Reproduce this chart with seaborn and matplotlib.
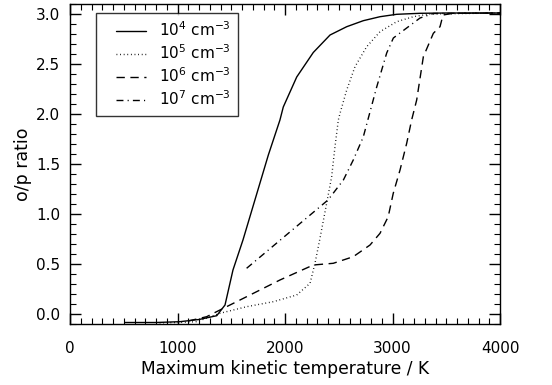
import numpy as np
import pandas as pd
import matplotlib
matplotlib.use("Agg")
import matplotlib.pyplot as plt
from matplotlib.lines import Line2D
from matplotlib.legend_handler import HandlerLine2D
from matplotlib.ticker import MultipleLocator
import seaborn as sns

# ---- data ----
densities = ["$10^4$ cm$^{-3}$", "$10^5$ cm$^{-3}$", "$10^6$ cm$^{-3}$", "$10^7$ cm$^{-3}$"]

t_1e4 = [510, 800, 1020, 1200, 1365, 1442, 1516, 1609, 1845, 1953, 1984, 2109, 2263, 2419,
         2574, 2728, 2884, 3039, 3256, 3500, 4000]
r_1e4 = [-0.085, -0.085, -0.077, -0.055, -0.017, 0.09, 0.44, 0.74, 1.59, 1.94, 2.07, 2.37, 2.615, 2.79,
         2.873, 2.933, 2.973, 2.997, 3.007, 3.01, 3.01]

t_1e5 = [800, 1000, 1179, 1395, 1643, 1891, 2109, 2233, 2279, 2326, 2388, 2434, 2465, 2496, 2512,
         2574, 2651, 2760, 2884, 3039, 3194, 3349, 4000]
r_1e5 = [-0.09, -0.085, -0.077, 0.007, 0.073, 0.123, 0.19, 0.307, 0.507, 0.76, 1.11, 1.373, 1.673, 1.94, 2.007,
         2.24, 2.473, 2.673, 2.823, 2.923, 2.973, 3.0, 3.01]

t_1e6 = [1100, 1271, 1395, 1643, 1953, 2263, 2449, 2635, 2791, 2884, 2960, 3007, 3070, 3132, 3178,
         3225, 3287, 3380, 3442, 3470, 3563, 4000]
r_1e6 = [-0.07, -0.027, 0.04, 0.173, 0.34, 0.49, 0.507, 0.573, 0.69, 0.807, 0.973, 1.207, 1.44, 1.707, 1.94,
         2.14, 2.573, 2.807, 2.873, 2.99, 3.007, 3.01]

t_1e7 = [1643, 2400, 2543, 2635, 2728, 2853, 2946, 3008, 3132, 3256, 3380, 4000]
r_1e7 = [0.457, 1.14, 1.34, 1.54, 1.77, 2.27, 2.61, 2.76, 2.86, 2.96, 3.005, 3.01]

series_t = [t_1e4, t_1e5, t_1e6, t_1e7]
series_r = [r_1e4, r_1e5, r_1e6, r_1e7]

frames = []
for lab, t, r in zip(densities, series_t, series_r):
    frames.append(pd.DataFrame({"T": t, "ratio": r, "density": lab}))
df = pd.concat(frames, ignore_index=True)

# ---- style ----
sns.set_theme(style="ticks")
plt.rcParams["font.family"] = ["DejaVu Sans"]
plt.rcParams["axes.linewidth"] = 1.0
plt.rcParams["text.color"] = "black"
plt.rcParams["axes.labelcolor"] = "black"
plt.rcParams["xtick.color"] = "black"
plt.rcParams["ytick.color"] = "black"

fig = plt.figure(figsize=(5.52, 3.85), dpi=100)
ax = fig.add_axes([70 / 552, 1 - 324 / 385, 430 / 552, 320 / 385])

dash_styles = ["", (0.6, 2.0), (6, 4), (5, 3, 0.8, 3)]
sns.lineplot(data=df, x="T", y="ratio", style="density", style_order=densities,
             dashes=dash_styles, color="black", linewidth=1.0, sort=False,
             estimator=None, legend=False, ax=ax)

ax.set_xlim(0, 4000)
ax.set_ylim(-0.1, 3.1)
ax.xaxis.set_major_locator(MultipleLocator(1000))
ax.xaxis.set_minor_locator(MultipleLocator(100))
ax.yaxis.set_major_locator(MultipleLocator(0.5))
ax.yaxis.set_minor_locator(MultipleLocator(0.1))
ax.yaxis.set_major_formatter(matplotlib.ticker.FormatStrFormatter("%.1f"))
ax.tick_params(which="both", direction="in", top=True, right=True, colors="black",
               labelsize=11)
ax.tick_params(which="major", length=8, width=1.0)
ax.tick_params(which="minor", length=4, width=0.8)
ax.tick_params(axis="x", pad=12)
ax.tick_params(axis="y", pad=7)
for s in ax.spines.values():
    s.set_visible(True)
    s.set_color("black")

ax.set_xlabel("Maximum kinetic temperature / K", fontsize=12.3, labelpad=3, color="black")
ax.set_ylabel("o/p ratio", fontsize=12.5, labelpad=3, color="black")

handles = [Line2D([0], [0], color="black", lw=1.0, linestyle=(0, d) if d else "-")
           for d in dash_styles]
leg = ax.legend(handles, densities, loc="upper left", bbox_to_anchor=(26 / 430, 1 - 9 / 320),
                frameon=True, fancybox=False, edgecolor="black", fontsize=11,
                handlelength=2.75, handletextpad=0.85, labelspacing=0.28,
                borderpad=0.5, borderaxespad=0, labelcolor="black",
                handler_map={Line2D: HandlerLine2D(xpad=0.8)})
leg.get_frame().set_linewidth(1.0)

fig.savefig("out.png", dpi=100)
